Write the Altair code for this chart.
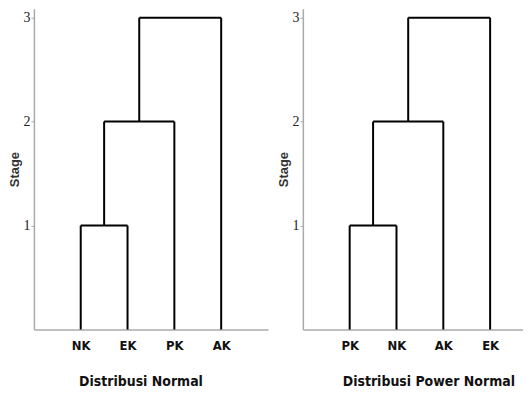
import altair as alt
import pandas as pd

# Leaf order and merge heights
leaves_normal = ["NK", "EK", "PK", "AK"]
leaves_power = ["PK", "NK", "AK", "EK"]
# merges: (node a, node b, stage); nodes >= 4 are previously formed clusters
merges_normal = [(0, 1, 1), (4, 2, 2), (5, 3, 3)]
merges_power = [(0, 1, 1), (4, 2, 2), (5, 3, 3)]
stage_ticks = [1, 2, 3]
titles = ["Distribusi Normal", "Distribusi Power Normal"]

LABEL_FONT = "DejaVu Sans Condensed"


def segments(leaves, merges):
    n = len(leaves)
    pos = {i: i + 1 for i in range(n)}
    hgt = {i: 0 for i in range(n)}
    rows = []
    for k, (a, b, h) in enumerate(merges):
        for node in (a, b):
            rows.append({"x": pos[node], "x2": pos[node], "y": hgt[node], "y2": h})
        rows.append({"x": pos[a], "x2": pos[b], "y": h, "y2": h})
        new = n + k
        pos[new] = (pos[a] + pos[b]) / 2
        hgt[new] = h
    return pd.DataFrame(rows)


def panel(leaves, merges, title, width, xmax, title_x):
    df = segments(leaves, merges)
    label_expr = "[" + ",".join("'%s'" % s for s in leaves) + "][datum.value - 1]"
    return alt.Chart(df).mark_rule(color="black", strokeWidth=2).encode(
        x=alt.X(
            "x:Q",
            scale=alt.Scale(domain=[0, xmax], nice=False, zero=False),
            axis=alt.Axis(
                values=list(range(1, len(leaves) + 1)),
                labelExpr=label_expr,
                ticks=False,
                grid=False,
                domainColor="#aaaaaa",
                domainWidth=1.5,
                labelFont=LABEL_FONT,
                labelFontSize=13,
                labelFontWeight="bold",
                labelColor="#111111",
                labelPadding=10,
                title=title,
                titleFont=LABEL_FONT,
                titleFontSize=14,
                titleFontWeight="bold",
                titleColor="#111111",
                titlePadding=22,
                titleX=title_x,
            ),
        ),
        x2="x2:Q",
        y=alt.Y(
            "y:Q",
            scale=alt.Scale(domain=[0, 3.086], nice=False),
            axis=alt.Axis(
                values=stage_ticks,
                format="d",
                grid=False,
                domainColor="#aaaaaa",
                domainWidth=1.5,
                tickColor="#aaaaaa",
                tickSize=3,
                labelFont="Liberation Serif",
                labelFontSize=14,
                labelColor="#222222",
                labelPadding=1,
                title="Stage",
                titleFont="Liberation Sans",
                titleFontSize=13,
                titleFontWeight="bold",
                titleColor="#333333",
                titlePadding=1,
            ),
        ),
        y2="y2:Q",
    ).properties(width=width, height=322)


left = panel(leaves_normal, merges_normal, titles[0], 235, 5.0, 107)
right = panel(leaves_power, merges_power, titles[1], 221, 221 / 47, 126)

chart = alt.hconcat(left, right, spacing=10).properties(
    padding={"left": 1, "top": 0, "right": 0, "bottom": 0}
).configure_view(stroke=None)

chart.save("out.html", embed_options={"renderer": "svg", "actions": False})
